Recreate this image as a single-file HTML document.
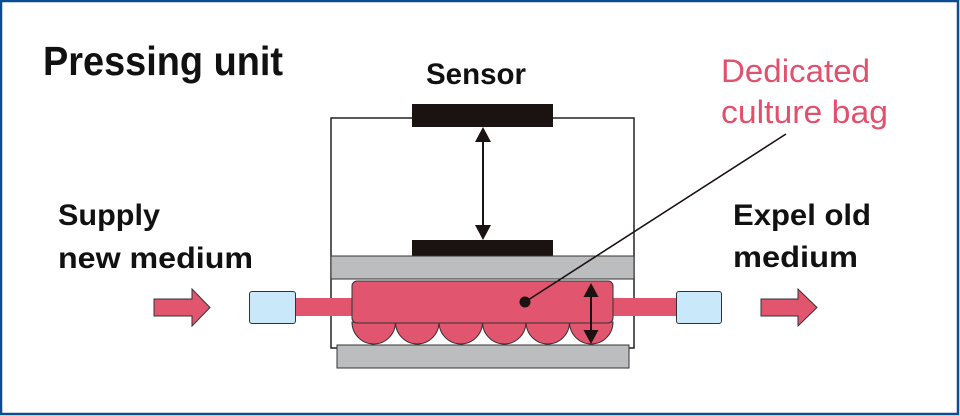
<!DOCTYPE html>
<html><head><meta charset="utf-8"><style>
html,body{margin:0;padding:0;background:#fff;}
svg{display:block;}
</style></head><body>
<svg width="960" height="416" viewBox="0 0 960 416" xmlns="http://www.w3.org/2000/svg">
<rect x="1" y="1" width="957" height="413" fill="#fff" stroke="#0b4d90" stroke-width="2.5"/>
<g font-family="Liberation Sans, sans-serif">
<text x="43" y="75" font-size="41" font-weight="bold" fill="#111" textLength="240" lengthAdjust="spacingAndGlyphs">Pressing unit</text>
<text x="426" y="84" font-size="30" font-weight="bold" fill="#111" textLength="100" lengthAdjust="spacingAndGlyphs">Sensor</text>
<text x="721" y="82" font-size="32" fill="#e0516d" textLength="149" lengthAdjust="spacingAndGlyphs">Dedicated</text>
<text x="721" y="123" font-size="32" fill="#e0516d" textLength="167" lengthAdjust="spacingAndGlyphs">culture bag</text>
<text x="58" y="225" font-size="30" font-weight="bold" fill="#111" textLength="102" lengthAdjust="spacingAndGlyphs">Supply</text>
<text x="58" y="268" font-size="30" font-weight="bold" fill="#111" textLength="195" lengthAdjust="spacingAndGlyphs">new medium</text>
<text x="733" y="225" font-size="30" font-weight="bold" fill="#111" textLength="138" lengthAdjust="spacingAndGlyphs">Expel old</text>
<text x="733" y="267" font-size="30" font-weight="bold" fill="#111" textLength="125" lengthAdjust="spacingAndGlyphs">medium</text>
</g>
<!-- frame -->
<rect x="331" y="118" width="303" height="230" fill="none" stroke="#222" stroke-width="1.5"/>
<!-- top sensor -->
<rect x="412" y="104" width="141" height="23" fill="#1a1311"/>
<!-- vertical arrow -->
<line x1="483" y1="138" x2="483" y2="229" stroke="#1a1311" stroke-width="2"/>
<polygon points="483,127 475,142 491,142" fill="#1a1311"/>
<polygon points="483,240 475,225 491,225" fill="#1a1311"/>
<!-- lower sensor -->
<rect x="412" y="240" width="141" height="16" fill="#1a1311"/>
<!-- upper plate -->
<rect x="331" y="256" width="303" height="23" fill="#bcbdbf" stroke="#333" stroke-width="1"/>
<!-- tubes -->
<rect x="295" y="298" width="60" height="18" fill="#e2556f"/>
<rect x="610" y="298" width="68" height="18" fill="#e2556f"/>
<!-- connectors -->
<rect x="249.5" y="291.5" width="46" height="32" rx="2.5" fill="#c9e8f9" stroke="#333" stroke-width="1"/>
<rect x="676.5" y="291.5" width="45" height="32" rx="2.5" fill="#c9e8f9" stroke="#333" stroke-width="1"/>
<!-- bumps -->
<g fill="#e2556f" stroke="#333" stroke-width="1">
<path d="M352 322 A21.75 22 0 0 0 395.5 322 Z"/>
<path d="M395.5 322 A21.75 22 0 0 0 439 322 Z"/>
<path d="M439 322 A21.75 22 0 0 0 482.5 322 Z"/>
<path d="M482.5 322 A21.75 22 0 0 0 526 322 Z"/>
<path d="M526 322 A21.75 22 0 0 0 569.5 322 Z"/>
<path d="M569.5 322 A21.75 22 0 0 0 613 322 Z"/>
</g>
<!-- bag -->
<rect x="352" y="281" width="261" height="42" rx="5" fill="#e2556f" stroke="#333" stroke-width="1"/>
<!-- lower plate -->
<rect x="337" y="345" width="292" height="23" fill="#bcbdbf" stroke="#333" stroke-width="1"/>
<!-- bag thickness arrow -->
<line x1="591" y1="294" x2="591" y2="333" stroke="#1a1311" stroke-width="2"/>
<polygon points="591,283 583.5,297 598.5,297" fill="#1a1311"/>
<polygon points="591,344 583.5,330 598.5,330" fill="#1a1311"/>
<!-- leader -->
<line x1="525" y1="302" x2="786" y2="134" stroke="#1a1311" stroke-width="1.6"/>
<circle cx="525" cy="302" r="5.5" fill="#1a1311"/>
<!-- flow arrows -->
<polygon points="154,299 192,299 192,289 210,307.5 192,326 192,316 154,316" fill="#e2556f" stroke="#333" stroke-width="1"/>
<polygon points="761,299 798,299 798,289 817,307.5 798,326 798,316 761,316" fill="#e2556f" stroke="#333" stroke-width="1"/>
</svg>
</body></html>
